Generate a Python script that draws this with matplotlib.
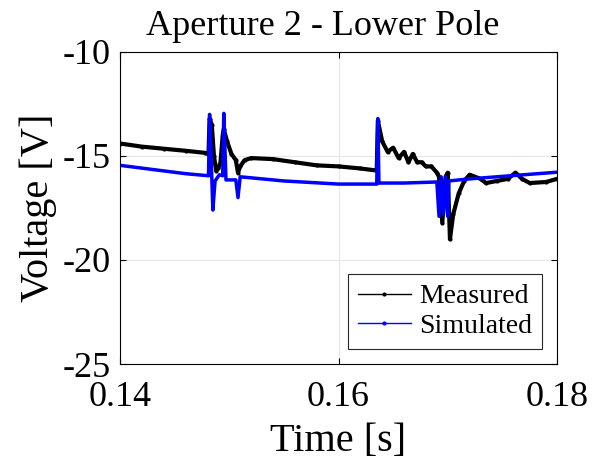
import numpy as np
import matplotlib.pyplot as plt

plt.rcParams['font.family'] = ['Liberation Serif', 'DejaVu Serif']

# Measured voltage
t_meas = [0.1400, 0.1420, 0.1440, 0.1460, 0.1478, 0.1481, 0.1482, 0.1484,
          0.1486, 0.1488, 0.1490, 0.1492, 0.1494, 0.1495, 0.1498, 0.1502,
          0.1506, 0.1508, 0.1510, 0.1514, 0.1520, 0.1540, 0.1560, 0.1580,
          0.1600, 0.1620, 0.1635, 0.1636, 0.1640, 0.1645, 0.1650, 0.1655,
          0.1660, 0.1664, 0.1668, 0.1672, 0.1676, 0.1680, 0.1685, 0.1690,
          0.1692, 0.1695, 0.1698, 0.1700, 0.1702, 0.1705, 0.1710, 0.1715,
          0.1720, 0.1730, 0.1735, 0.1745, 0.1755, 0.1762, 0.1768, 0.1775,
          0.1790, 0.1800]
v_meas = [-14.4, -14.55, -14.65, -14.75, -14.85, -14.9, -13.2, -13.5,
          -15.0, -15.7, -15.6, -15.3, -14.0, -13.7, -14.3, -14.9,
          -15.2, -15.8, -15.5, -15.2, -15.1, -15.15, -15.3, -15.45,
          -15.5, -15.6, -15.7, -13.3, -14.3, -14.8, -14.6, -15.1,
          -14.8, -15.3, -14.9, -15.3, -15.3, -15.5, -15.5, -15.8,
          -16.0, -18.2, -16.0, -15.8, -19.0, -17.8, -16.8, -16.2,
          -15.9, -16.1, -16.3, -16.2, -16.1, -15.8, -16.1, -16.3,
          -16.25, -16.1]

# Simulated voltage
t_sim = [0.1400, 0.1460, 0.1481, 0.1482, 0.1484, 0.1485, 0.1487, 0.1491,
         0.1494, 0.1495, 0.1497, 0.1506, 0.1508, 0.1510, 0.1550, 0.1600,
         0.1635, 0.1636, 0.1637, 0.1660, 0.1690, 0.1692, 0.1694, 0.1696,
         0.1698, 0.1700, 0.1701, 0.1720, 0.1800]
v_sim = [-15.45, -15.85, -15.95, -13.0, -16.0, -17.6, -16.2, -15.9,
         -15.95, -12.95, -16.15, -16.15, -17.0, -16.0, -16.2, -16.35,
         -16.35, -13.2, -16.3, -16.3, -16.25, -17.9, -16.0, -17.8,
         -16.0, -17.9, -16.2, -16.1, -15.78]

fig = plt.figure(figsize=(5.92, 4.65), dpi=100)
ax = fig.add_axes([0.2027, 0.2172, 0.7382, 0.671])

ax.plot(t_meas, v_meas, color='black', linewidth=3, marker='.', markersize=4,
        label='Measured')
ax.plot(t_sim, v_sim, color='blue', linewidth=2.5, marker='.', markersize=0.1,
        label='Simulated')

ax.set_xlim(0.14, 0.18)
ax.set_ylim(-25, -10)
ax.set_xticks([0.14, 0.16, 0.18])
ax.set_xticklabels(['0.14', '0.16', '0.18'])
ax.set_yticks([-25, -20, -15, -10])
ax.set_yticklabels(['-25', '-20', '-15', '-10'])
ax.grid(True, color='#e6e6e6', linewidth=0.8)
ax.set_axisbelow(True)
ax.tick_params(direction='in', labelsize=26, top=True, right=True, length=4)
ax.tick_params(axis='x', pad=12)
ax.tick_params(axis='y', pad=7)
for s in ax.spines.values():
    s.set_linewidth(0.8)

ax.set_title('Aperture 2 - Lower Pole', fontsize=26, pad=12, x=0.463)
ax.set_xlabel('Time [s]', fontsize=29, labelpad=7)
ax.set_ylabel('Voltage [V]', fontsize=29, labelpad=4)

leg = ax.legend(loc='lower right', fontsize=20, fancybox=False, framealpha=1,
                edgecolor='#262626', handlelength=1.9, borderaxespad=0.55,
                handletextpad=0.3, labelspacing=0.15, borderpad=0.35)
for h in leg.get_lines():
    h.set_linewidth(1)
    h.set_markersize(4)
leg.get_frame().set_linewidth(0.8)

fig.savefig('out.png', dpi=100)
